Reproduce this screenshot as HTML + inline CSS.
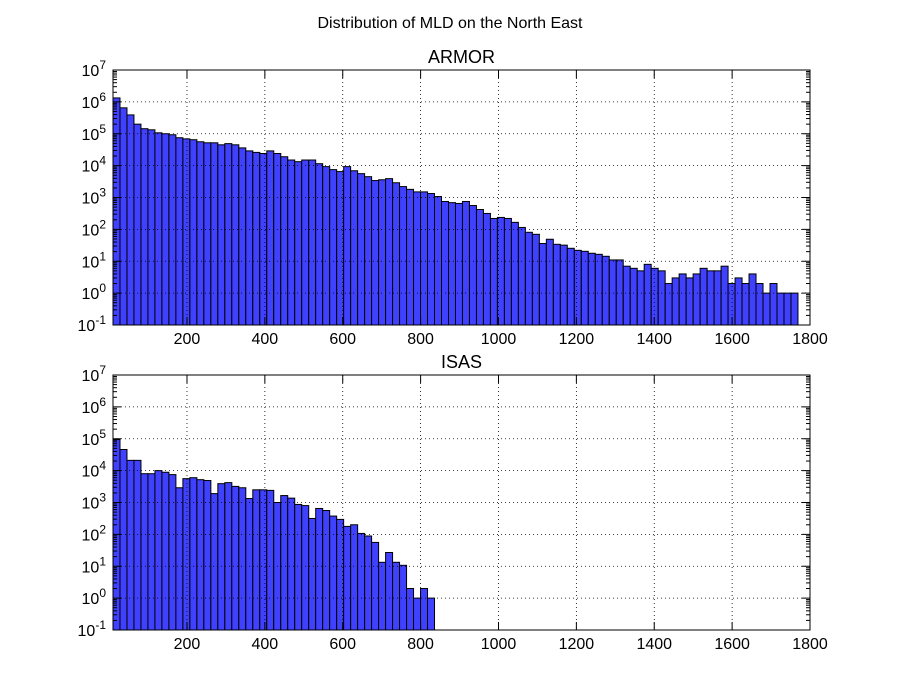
<!DOCTYPE html>
<html><head><meta charset="utf-8">
<style>
body{margin:0;background:#fff;}
svg{display:block;font-family:"Liberation Sans","DejaVu Sans",sans-serif;}
</style></head>
<body>
<svg id="fig" width="900" height="700" viewBox="0 0 900 700" xmlns="http://www.w3.org/2000/svg">
<rect x="0" y="0" width="900" height="700" fill="#fff"/>
<text x="450" y="28" text-anchor="middle" font-size="16">Distribution of MLD on the North East</text>
</svg>
<script>
const binStart = 10;
const binWidth = 17.95;
const armorCounts = [1.33e6,6.5e5,3.9e5,2.0e5,1.44e5,1.33e5,1.07e5,1.0e5,9.3e4,7.5e4,6.9e4,6.5e4,5.6e4,5.2e4,5.2e4,4.5e4,4.9e4,4.5e4,3.6e4,2.9e4,2.6e4,2.4e4,2.9e4,2.4e4,1.9e4,1.5e4,1.33e4,1.5e4,1.5e4,1.15e4,9.3e3,7.5e3,6.5e3,9.3e3,6.9e3,5.6e3,4.5e3,3.4e3,3.6e3,3.9e3,2.9e3,2.2e3,1.8e3,1.5e3,1.5e3,1.33e3,1.07e3,750,690,650,750,560,420,316,220,237,220,166,115,81,70,36,49,34,32,25.5,22,20.5,17.8,16.5,14.3,11,11,7,6,5,8,6,5,2,3,4,3,4,6,5,5,7,2,3,2,4,2,1,2,1,1,1];
const isasCounts = [9.5e4,4.6e4,2.1e4,2.1e4,8e3,8e3,1.0e4,8.9e3,7.5e3,2.9e3,5.6e3,6e3,5.2e3,4.9e3,1.9e3,3.9e3,4.2e3,3.2e3,2.9e3,1.33e3,2.5e3,2.5e3,2.4e3,1.0e3,1.65e3,1.37e3,870,800,316,650,560,375,295,178,200,107,89,56,13.3,27,13.3,10.7,2,1,2,1];
const xTicks = [200,400,600,800,1000,1200,1400,1600,1800];
const yExps = [-1,0,1,2,3,4,5,6,7];

const NS = "http://www.w3.org/2000/svg";
const svg = document.getElementById('fig');
function mk(tag, attrs, parent){const e=document.createElementNS(NS,tag);for(const k in attrs)e.setAttribute(k,attrs[k]);(parent||svg).appendChild(e);return e;}

function panel(top, title, counts, nm){
  const L=113, R=810, T=top, B=top+255;
  const xmin=10, xmax=1800;
  const xs=v=>L+(v-xmin)/(xmax-xmin)*(R-L);
  const ys=v=>B-(Math.log10(v)+1)/8*(B-T);
  const g=mk('g',{});
  
  
  // bars
  counts.forEach((c,i)=>{
    const x0=xs(binStart+i*binWidth), x1=xs(binStart+(i+1)*binWidth), y=ys(c);
    const r=mk('rect',{x:x0,y:y,width:x1-x0,height:B-y,fill:'#4040ff',stroke:'#000','stroke-width':1},g);
    
    
  });
  // grid
  xTicks.forEach(t=>{ if(t<xmax){const x=xs(t);const l=mk('line',{x1:x,x2:x,y1:T,y2:B,stroke:'#000','stroke-width':0.8,'stroke-dasharray':'1,3'},g);
     }});
  yExps.forEach(e=>{ if(e>-1&&e<7){const y=ys(Math.pow(10,e));const l=mk('line',{x1:L,x2:R,y1:y,y2:y,stroke:'#000','stroke-width':0.8,'stroke-dasharray':'1,3'},g);
     }});
  // ticks
  xTicks.forEach(t=>{const x=xs(t);
    mk('line',{x1:x,x2:x,y1:B,y2:B-8,stroke:'#000'},g);mk('line',{x1:x,x2:x,y1:T,y2:T+8,stroke:'#000'},g);
    const tx=mk('text',{x:x,y:B+19,'text-anchor':'middle','font-size':16},g);tx.textContent=t;
     });
  yExps.forEach(e=>{const y=ys(Math.pow(10,e));
    mk('line',{x1:L,x2:L+8,y1:y,y2:y,stroke:'#000'},g);mk('line',{x1:R,x2:R-8,y1:y,y2:y,stroke:'#000'},g);
    if(e<7){for(let m=2;m<10;m++){const ym=ys(m*Math.pow(10,e));
      mk('line',{x1:L,x2:L+4,y1:ym,y2:ym,stroke:'#000'},g);mk('line',{x1:R,x2:R-4,y1:ym,y2:ym,stroke:'#000'},g);}}
    const tx=mk('text',{x:L-7,y:y+6,'text-anchor':'end','font-size':16},g);
     
    const a=mk('tspan',{},tx);a.textContent='10';
    const b=mk('tspan',{dy:-7,'font-size':12},tx);b.textContent=e;});
  const fr=mk('rect',{x:L,y:T,width:R-L,height:B-T,fill:'none',stroke:'#000','stroke-width':1},g);
   
  const tt=mk('text',{x:(L+R)/2,y:T-7,'text-anchor':'middle','font-size':18},g);tt.textContent=title;
   
}
panel(70,'ARMOR',armorCounts,'armor');
panel(375,'ISAS',isasCounts,'isas');
</script>
</body></html>
